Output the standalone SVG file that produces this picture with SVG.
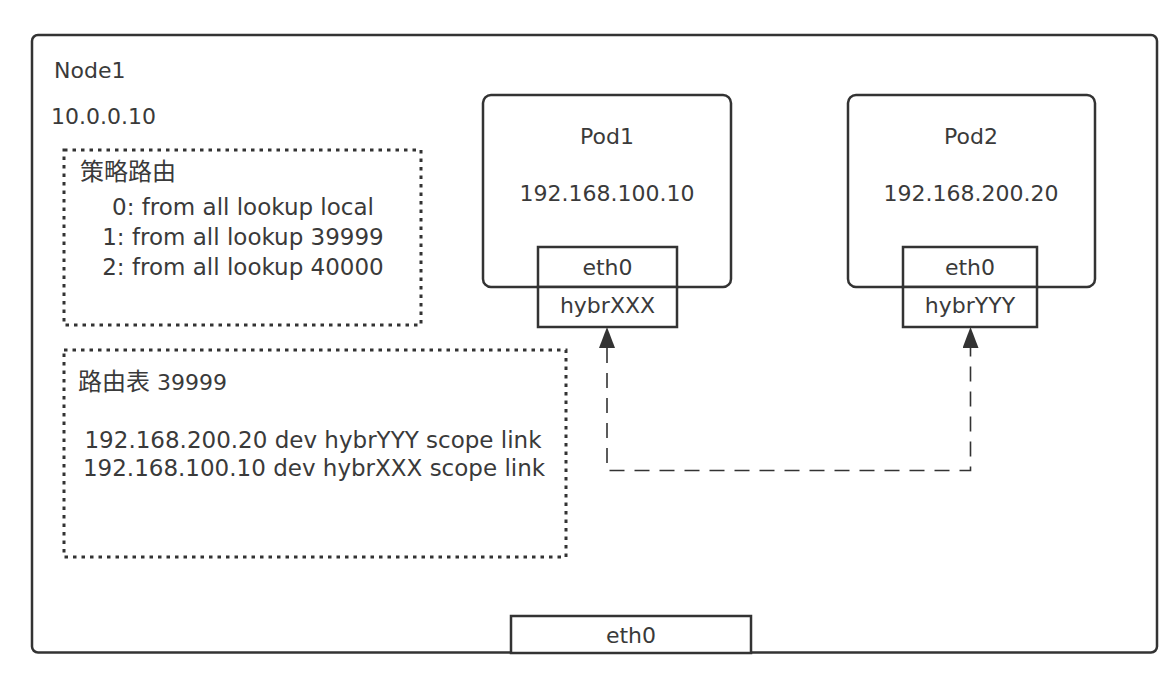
<svg xmlns="http://www.w3.org/2000/svg" width="1174" height="677" viewBox="0 0 1174 677">
  <style>
    .box { fill: #ffffff; stroke: #333333; stroke-width: 2.5; }
    .dot { fill: none; stroke: #333333; stroke-width: 3; stroke-dasharray: 3.5 5; }
    .t { font-family: "DejaVu Sans", "Noto Sans CJK SC", sans-serif; font-size: 22px; fill: #3a3a3a; }
    .tl { font-family: "DejaVu Sans", "Noto Sans CJK SC", sans-serif; font-size: 23px; fill: #3a3a3a; }
    .cjk { font-family: "Noto Sans CJK SC", sans-serif; font-size: 24px; }
    .c { text-anchor: middle; }
    .conn { fill: none; stroke: #333333; stroke-width: 1.6; stroke-dasharray: 15 10; }
  </style>
  <defs>
    <marker id="arrow" viewBox="0 0 21 16" refX="0" refY="8" markerWidth="21" markerHeight="16" markerUnits="userSpaceOnUse" orient="auto-start-reverse">
      <path d="M0,0 L21,8 L0,16 z" fill="#333333"/>
    </marker>
  </defs>
  <rect width="1174" height="677" fill="#ffffff"/>

  <g id="node1">
    <rect class="box" x="32" y="35" width="1125" height="617.5" rx="6" ry="6"/>
    <text class="t" x="54" y="78">Node1</text>
    <text class="t" x="51" y="124">10.0.0.10</text>
  </g>

  <g id="policy-routing">
    <rect class="dot" x="64" y="150" width="357" height="175"/>
    <text class="t cjk" x="80" y="180">策略路由</text>
    <text class="tl c" x="243" y="215">0: from all lookup local</text>
    <text class="tl c" x="243" y="245">1: from all lookup 39999</text>
    <text class="tl c" x="243" y="275">2: from all lookup 40000</text>
  </g>

  <g id="route-table">
    <rect class="dot" x="64" y="350" width="502" height="207"/>
    <text class="t" x="78" y="390"><tspan class="cjk">路由表</tspan> 39999</text>
    <text class="tl c" x="313" y="448">192.168.200.20 dev hybrYYY scope link</text>
    <text class="tl c" x="314" y="476">192.168.100.10 dev hybrXXX scope link</text>
  </g>

  <g id="pod1">
    <rect class="box" x="483" y="95" width="248" height="192" rx="8" ry="8"/>
    <text class="t c" x="607" y="144">Pod1</text>
    <text class="t c" x="607" y="201">192.168.100.10</text>
    <rect class="box" x="538" y="247" width="139" height="40"/>
    <text class="t c" x="607.5" y="275">eth0</text>
    <rect class="box" x="538" y="287" width="139" height="40"/>
    <text class="t c" x="607.5" y="313">hybrXXX</text>
  </g>

  <g id="pod2">
    <rect class="box" x="848" y="95" width="247" height="192" rx="8" ry="8"/>
    <text class="t c" x="971" y="144">Pod2</text>
    <text class="t c" x="971" y="201">192.168.200.20</text>
    <rect class="box" x="903" y="247" width="134" height="40"/>
    <text class="t c" x="970" y="275">eth0</text>
    <rect class="box" x="903" y="287" width="134" height="40"/>
    <text class="t c" x="970" y="313">hybrYYY</text>
  </g>

  <g id="node-eth0">
    <rect class="box" x="511" y="616" width="240" height="37"/>
    <text class="t c" x="631" y="643">eth0</text>
  </g>

  <g id="connectors">
    <path class="conn" d="M607,348 V470.5 H970.5 V348" marker-start="url(#arrow)" marker-end="url(#arrow)"/>
  </g>
</svg>
